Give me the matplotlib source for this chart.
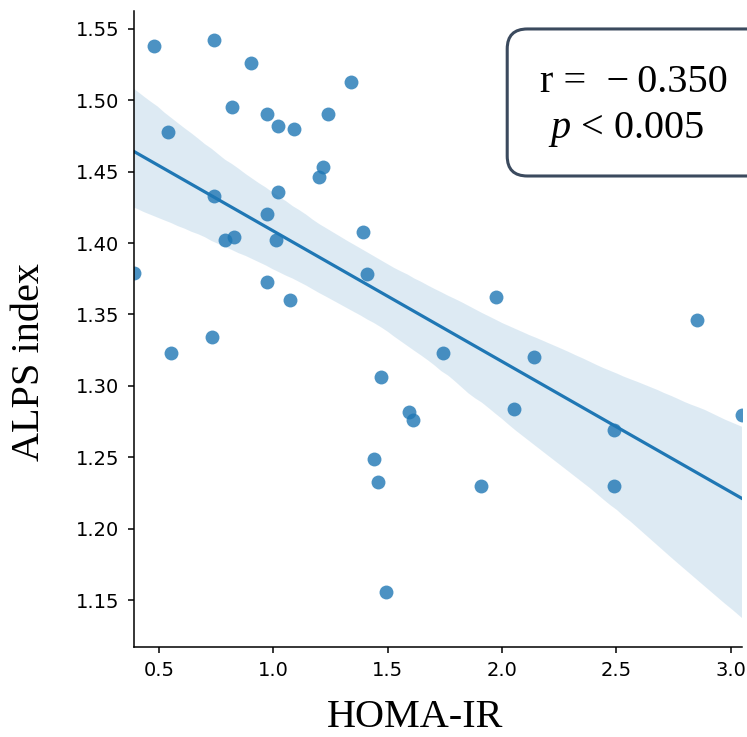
import matplotlib
matplotlib.use('Agg')
import matplotlib.pyplot as plt
from matplotlib.patches import FancyBboxPatch
import numpy as np
import pandas as pd
import seaborn as sns

# ── Dados (HOMA-IR x índice ALPS) ──────────────────────────────────────────
homa_ir = [0.478, 0.741, 0.901, 1.339, 0.819, 0.971, 1.239, 1.022, 1.088,
           0.539, 1.219, 1.199, 1.022, 0.741, 0.971, 1.390, 0.829, 0.789,
           1.011, 0.390, 1.410, 0.971, 1.072,
           0.550, 0.730, 1.471, 1.592, 1.610, 1.442, 1.459, 1.491,
           1.972, 2.851, 1.741, 2.142, 2.051, 3.050, 2.491, 1.908, 2.491]
alps = [1.538, 1.542, 1.526, 1.513, 1.495, 1.490, 1.490, 1.482, 1.480,
        1.478, 1.453, 1.446, 1.436, 1.433, 1.420, 1.408, 1.404, 1.402,
        1.402, 1.379, 1.378, 1.373, 1.360,
        1.323, 1.334, 1.306, 1.282, 1.276, 1.249, 1.233, 1.156,
        1.362, 1.346, 1.323, 1.320, 1.284, 1.280, 1.269, 1.230, 1.230]

df = pd.DataFrame({'HOMA-IR': homa_ir, 'ALPS': alps})

plt.rcParams['mathtext.fontset'] = 'custom'
plt.rcParams['mathtext.rm'] = 'Liberation Serif'
plt.rcParams['mathtext.it'] = 'Liberation Serif:italic'

fig = plt.figure(figsize=(7.47, 7.37), dpi=100)
ax = fig.add_axes([0.1794, 0.1225, 0.8139, 0.863])

sns.regplot(data=df, x='HOMA-IR', y='ALPS', ax=ax, truncate=False, seed=0,
            color='#1f77b4',
            scatter_kws={'s': 100, 'alpha': 0.8, 'linewidths': 0},
            line_kws={'lw': 2.3})

ax.set_xlim(0.39, 3.05)
ax.set_ylim(1.1175, 1.5626)
ax.set_xticks([0.5, 1.0, 1.5, 2.0, 2.5, 3.0])
ax.set_yticks([1.15, 1.20, 1.25, 1.30, 1.35, 1.40, 1.45, 1.50, 1.55])
ax.tick_params(labelsize=14, length=4.5, width=1.1, pad=6)
for s in ['top', 'right']:
    ax.spines[s].set_visible(False)
for s in ['left', 'bottom']:
    ax.spines[s].set_linewidth(1.1)

ax.set_xlabel('HOMA-IR', family='Liberation Serif', fontsize=29)
ax.set_ylabel('ALPS index', family='Liberation Serif', fontsize=29)
ax.xaxis.set_label_coords(0.462, -0.0816)
ax.yaxis.set_label_coords(-0.142, 0.448)

# caixa com r e p (sai um pouco da figura pela direita)
caixa = FancyBboxPatch((0.679, 0.7612), 0.35, 0.1995, transform=fig.transFigure,
                       boxstyle='round,pad=0,rounding_size=0.027',
                       facecolor='white', edgecolor='#3b4a5e', linewidth=2.2,
                       clip_on=False)
fig.patches.append(caixa)
fig.text(0.723, 0.875, 'r =  \u2212\u20090.350', family='Liberation Serif',
         fontsize=29, ha='left', va='baseline')
fig.text(0.7336, 0.8128, r'$p$ < 0.005', family='Liberation Serif',
         fontsize=29, ha='left', va='baseline')

plt.savefig('out.png', dpi=100)
plt.close()
